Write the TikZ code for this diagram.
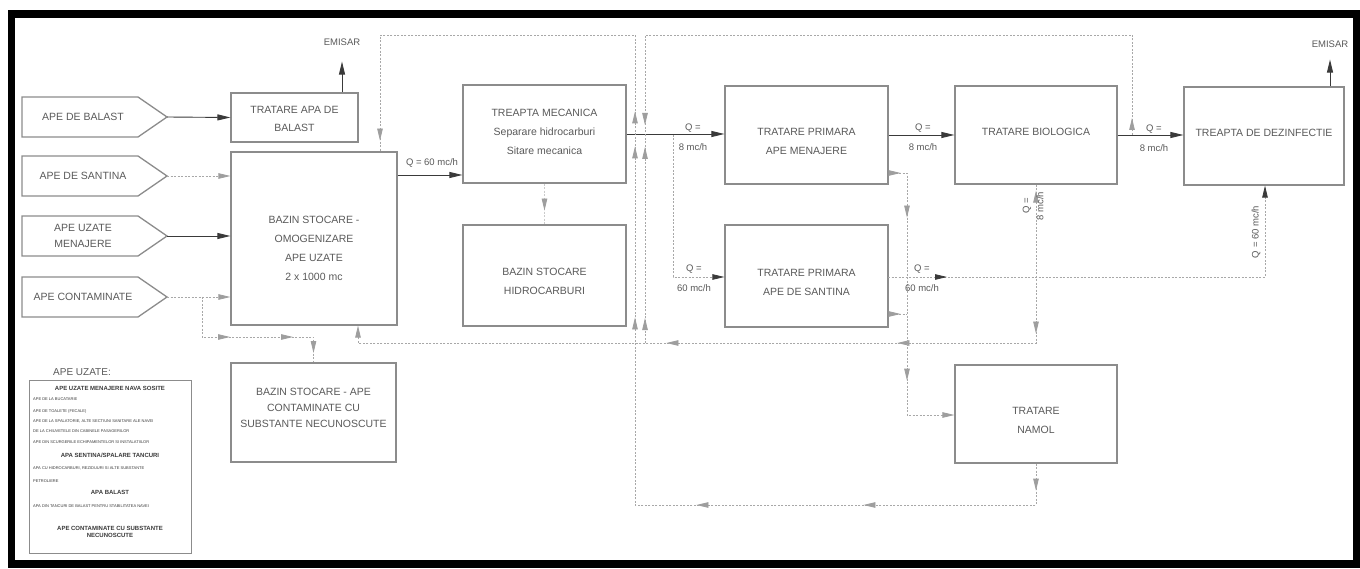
\documentclass[tikz,border=0pt]{standalone}
\usepackage{fontspec}
\setmainfont{Liberation Sans}
\usetikzlibrary{arrows.meta,decorations.markings}
\definecolor{boxc}{HTML}{8C8C8C}
\definecolor{txtc}{HTML}{5A5A5A}
\definecolor{darkc}{HTML}{3A3A3A}
\definecolor{linec}{HTML}{A8A8A8}
\definecolor{tipc}{HTML}{9E9E9E}
\newcommand\boxfont{\fontsize{10.5}{19}\selectfont}
\newcommand\boxfontb{\fontsize{10.5}{16}\selectfont}
\newcommand\qfont{\fontsize{9.5}{20}\selectfont}
\newcommand\qfontb{\fontsize{9.5}{14}\selectfont}
\newcommand\lgsmall{\fontsize{4}{5}\selectfont}
\newcommand\lghead{\fontsize{6}{7.5}\selectfont\bfseries}
\begin{document}
\begin{tikzpicture}[x=1pt,y=-1pt,
  box/.style={draw=boxc, line width=1.2pt, inner sep=0pt, fill=white},
  btext/.style={text=txtc, align=center, font=\boxfont, inner sep=1pt},
  qlab/.style={text=txtc, align=center, font=\qfont, inner sep=0pt},
  lgs/.style={text=darkc, font=\lgsmall, inner sep=0pt, anchor=west},
  lgh/.style={text=darkc, font=\lghead, inner sep=0pt, align=center},
  inshape/.style={draw=boxc, line width=1.3pt, fill=white},
  dflow/.style={draw=darkc, line width=0.9pt, -{Triangle[length=13pt,width=6pt]}},
  gline/.style={draw=linec, line width=0.8pt, dash pattern=on 2pt off 1.5pt},
  gflow/.style={gline, -{Triangle[length=12pt,width=5.5pt,color=tipc]}},
  gflowd/.style={gline, -{Triangle[length=12pt,width=5.5pt,color=darkc]}},
  gm/.style={postaction={decorate,decoration={markings,mark=at position #1 with {\arrow{Triangle[length=12pt,width=5.5pt,color=tipc]}}}}},
  gmr/.style={postaction={decorate,decoration={markings,mark=at position #1 with {\arrowreversed{Triangle[length=12pt,width=5.5pt,color=tipc]}}}}},
  dm/.style={postaction={decorate,decoration={markings,mark=at position #1 with {\arrow{Triangle[length=12pt,width=5.5pt,color=darkc]}}}}},
]
\useasboundingbox (0,0) rectangle (1360,569);
\fill[white] (0,0) rectangle (1360,569);
\draw[line width=7.5pt, black] (11.5,14) rectangle (1356.5,564);

% input pentagons
\draw[inshape] (22,97) -- (138,97) -- (167,117) -- (138,137) -- (22,137) -- cycle;
\draw[inshape] (22,156) -- (138,156) -- (167,176) -- (138,196) -- (22,196) -- cycle;
\draw[inshape] (22,216) -- (138,216) -- (167,236) -- (138,256) -- (22,256) -- cycle;
\draw[inshape] (22,277) -- (138,277) -- (167,297) -- (138,317) -- (22,317) -- cycle;
\coordinate (in1) at (167,117);
\coordinate (in2) at (167,176);
\coordinate (in3) at (167,236);
\coordinate (in4) at (167,297);
\node[btext] (in1T) at (83,117) {APE DE BALAST};
\node[btext] (in2T) at (83,176) {APE DE SANTINA};
\node[btext, font=\boxfontb] (in3T) at (83,236) {APE UZATE\\MENAJERE};
\node[btext] (in4T) at (83,297) {APE CONTAMINATE};

% boxes
\node[box, minimum width=127pt, minimum height=49pt] (tab) at (294.5,117.5) {};
\node[box, minimum width=166pt, minimum height=173pt] (bso) at (314,238.5) {};
\node[box, minimum width=165pt, minimum height=99pt] (bsc) at (313.5,412.5) {};
\node[box, line width=0.8pt, minimum width=162pt, minimum height=173pt] (leg) at (110,466.5) {};
\node[box, minimum width=163pt, minimum height=98pt] (tm) at (544.5,134) {};
\node[box, minimum width=163pt, minimum height=101pt] (bh) at (544.5,275.5) {};
\node[box, minimum width=163pt, minimum height=98pt] (tpm) at (806.5,135) {};
\node[box, minimum width=163pt, minimum height=102pt] (tps) at (806.5,276) {};
\node[box, minimum width=162pt, minimum height=98pt] (tb) at (1036,135) {};
\node[box, minimum width=160pt, minimum height=98pt] (td) at (1264,136) {};
\node[box, minimum width=162pt, minimum height=98pt] (tn) at (1036,414) {};

% box texts
\node[btext, font=\fontsize{10.5}{18}\selectfont] (tabT) at (294.5,119) {TRATARE APA DE\\BALAST};
\node[btext] (bsoT) at (314,248) {BAZIN STOCARE -\\OMOGENIZARE\\APE UZATE\\2 x 1000 mc};
\node[btext, font=\boxfontb] (bscT) at (313.5,408) {BAZIN STOCARE - APE\\CONTAMINATE CU\\SUBSTANTE NECUNOSCUTE};
\node[btext] (tmT) at (544.5,132) {TREAPTA MECANICA\\Separare hidrocarburi\\Sitare mecanica};
\node[btext] (bhT) at (544.5,281) {BAZIN STOCARE\\HIDROCARBURI};
\node[btext] (tpmT) at (806.5,141) {TRATARE PRIMARA\\APE MENAJERE};
\node[btext] (tpsT) at (806.5,282) {TRATARE PRIMARA\\APE DE SANTINA};
\node[btext] (tbT) at (1036,132) {TRATARE BIOLOGICA};
\node[btext] (tdT) at (1264,133) {TREAPTA DE DEZINFECTIE};
\node[btext] (tnT) at (1036,420) {TRATARE\\NAMOL};

% legend
\node[btext, font=\fontsize{10}{12}\selectfont] (legT) at (82,372) {APE UZATE:};
\node[lgh] (lh1) at (110,388) {APE UZATE MENAJERE NAVA SOSITE};
\node[lgs] (ls1) at (33,399) {APE DE LA BUCATARIE};
\node[lgs] (ls2) at (33,411) {APE DE TOALETE (FECALE)};
\node[lgs] (ls3) at (33,421) {APE DE LA SPALATORIE, ALTE SECTIUNI SANITARE ALE NAVEI};
\node[lgs] (ls4) at (33,431) {DE LA CHIUVETELE DIN CABINELE PASAGERILOR};
\node[lgs] (ls5) at (33,442) {APE DIN SCURGERILE ECHIPAMENTELOR SI INSTALATIILOR};
\node[lgh] (lh2) at (110,455) {APA SENTINA/SPALARE TANCURI};
\node[lgs] (ls6) at (33,468) {APA CU HIDROCARBURI, REZIDUURI SI ALTE SUBSTANTE};
\node[lgs] (ls7) at (33,481) {PETROLIERE};
\node[lgh] (lh3) at (110,492) {APA BALAST};
\node[lgs] (ls8) at (33,506) {APA DIN TANCURI DE BALAST PENTRU STABILITATEA NAVEI};
\node[lgh] (lh4) at (110,532) {APE CONTAMINATE CU SUBSTANTE\\NECUNOSCUTE};

% emisar
\node[qlab] (em1) at (342,42) {EMISAR};
\node[qlab] (em2) at (1330,44) {EMISAR};
\draw[dflow, shorten >=16pt] (tab.north -| em1) -- (em1.south);
\draw[dflow, shorten >=12pt] (td.north -| em2) -- (em2.south);

% solid main flows
\coordinate (y175) at (0,175);
\draw[dflow] (in1) -- (tab.west);
\draw[dflow] (in3) -- (in3 -| bso.west);
\draw[dflow] (bso.east |- y175) -- (tm.west |- y175);
\draw[dflow] (tm.east) -- (tm.east -| tpm.west);
\draw[dflow] (tpm.east) -- (tb.west);
\draw[dflow] (tb.east) -- (tb.east -| td.west);

% gray inflows
\draw[gflow] (in2) -- (in2 -| bso.west);
\draw[gflow] (in4) -- (in4 -| bso.west);
\coordinate (c1) at (202,297);
\coordinate (c2) at (202,337);
\coordinate (c3) at (313.5,337);
\draw[gline, gm=68pt, gm=131pt, gm=167.5pt] (c1) -- (c2) -- (c3) -- (bsc.north);

% hydrocarbons
\draw[gline, draw=linec!60, gm=27pt] (tm.south) -- (bh.north);

% loop from sludge treatment back to storage
\coordinate (p1a) at (1036,505);
\coordinate (p1b) at (635,505);
\coordinate (p1c) at (635,35);
\coordinate (p1d) at (380,35);
\draw[gline, gm=27pt, gm=214pt, gm=381pt, gm=630pt, gm=801pt, gm=836pt, gm=1273pt]
  (tn.south) -- (p1a) -- (p1b) -- (p1c) -- (p1d) -- (bso.north -| p1d);

% recirculation from biological outlet
\coordinate (p2a) at (1132,135);
\coordinate (p2b) at (1132,35);
\coordinate (p2c) at (645,35);
\coordinate (p2d) at (645,135);
\draw[gline, gm=17pt, gm=677pt] (p2a) -- (p2b) -- (p2c) -- (p2d);

% return line from biological
\coordinate (p3a) at (1036,343);
\coordinate (p3b) at (358,343);
\draw[gflow, gmr=6pt, gm=149pt, gm=297pt, gm=528pt] (tb.south) -- (p3a) -- (p3b) -- (bso.south -| p3b);
\coordinate (p4a) at (645,343);
\draw[gline, gm=25pt, gm=196pt] (p4a) -- (p2d);

% bilge water line
\coordinate (p5a) at (673,135);
\coordinate (p5b) at (673,277);
\draw[gflowd] (p5a) -- (p5b) -- (tps.west |- p5b);
\coordinate (p6s) at (888,277);
\coordinate (p6a) at (1265,277);
\draw[gflowd, dm=59pt] (p6s) -- (p6a) -- (td.south -| p6a);

% sludge to NAMOL
\coordinate (p7a) at (907,173);
\coordinate (p7b) at (907,415);
\draw[gflow, gm=12pt, gm=63pt, gm=226pt] (tpm.east |- p7a) -- (p7a) -- (p7b) -- (tn.west |- p7b);
\coordinate (p8a) at (907,314);
\draw[gline, gm=12pt] (tps.east |- p8a) -- (p8a);

% flow labels
\node[qlab] (q1) at (432,163) {Q = 60 mc/h};
\node[qlab] (q2) at (693,137) {Q =\\8 mc/h};
\node[qlab] (q3) at (923,137) {Q =\\8 mc/h};
\node[qlab] (q4) at (1154,138) {Q =\\8 mc/h};
\node[qlab] (q5) at (694,278) {Q =\\60 mc/h};
\node[qlab] (q6) at (922,278) {Q =\\60 mc/h};
\node[qlab, rotate=90] (q7) at (1256,232) {Q = 60 mc/h};
\node[qlab, font=\qfontb, rotate=90] (q8) at (1033,206) {Q =\\8 mc/h};
\end{tikzpicture}
\end{document}
